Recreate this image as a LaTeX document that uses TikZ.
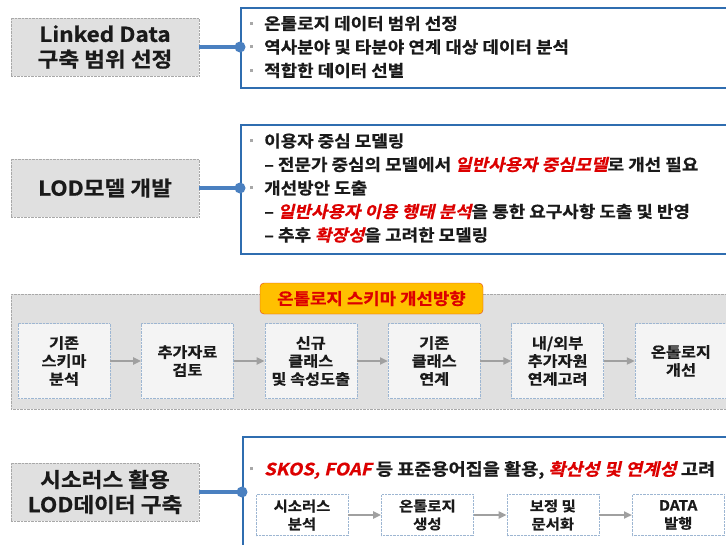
\documentclass[tikz,border=0pt]{standalone}
\usepackage{fontspec}
\setmainfont{Noto Sans CJK KR}[UprightFont=* Bold, BoldFont=* Bold, ItalicFont=* Bold,
    UprightFeatures={FakeStretch=1.1, FakeBold=0.7},
    ItalicFeatures={FakeSlant=0.22, FakeStretch=1.1, FakeBold=0.7}]
\usetikzlibrary{positioning}
\usetikzlibrary{arrows.meta}

\definecolor{boxgray}{HTML}{E0E0E0}
\definecolor{dotgray}{HTML}{A8A8A8}
\definecolor{noteblue}{HTML}{2F6DB0}
\definecolor{linkblue}{HTML}{4A80C0}
\definecolor{stepfill}{HTML}{F4F4F4}
\definecolor{stepline}{HTML}{9DB6D2}
\definecolor{arrowgray}{HTML}{A0A0A0}
\definecolor{txt}{HTML}{1A1A1A}
\definecolor{hot}{HTML}{DC0000}
\definecolor{tagfill}{HTML}{FFC000}
\definecolor{tagline}{HTML}{E0401A}

\newcommand{\bul}{\makebox[14pt][l]{\textcolor{dotgray}{\rule[5pt]{3pt}{3pt}}}}
\newcommand{\sub}{\hspace*{14pt}– }
\newcommand{\hot}[1]{\textcolor{hot}{\itshape #1}}

\tikzset{
  topic/.style={draw=dotgray, densely dotted, fill=boxgray, minimum width=188pt, minimum height=58pt,
    align=center, text=txt, font=\fontsize{20.5}{25}\selectfont},
  note/.style={draw=noteblue, line width=2pt, fill=white, anchor=north west, minimum width=520pt},
  notetext/.style={anchor=west, align=left, inner sep=0pt, text=txt, font=\fontsize{16.3}{23.5}\selectfont},
  link/.style={linkblue, line width=3.5pt},
  stepbox/.style={draw=stepline, densely dotted, fill=stepfill, minimum width=92pt, minimum height=75pt,
    align=center, text=txt, font=\fontsize{14.8}{18}\selectfont},
  flowbox/.style={draw=stepline, densely dotted, fill=white, minimum width=92pt, minimum height=41pt,
    align=center, text=txt, font=\fontsize{14}{18}\selectfont},
  flow/.style={-{Triangle[length=8pt,width=7pt]}, arrowgray, line width=2.5pt},
}

\begin{document}
\begin{tikzpicture}[x=1pt, y=-1pt]
    \useasboundingbox (0,0) rectangle (726,544);

    % Linked Data scope
    \node[topic] (lds) at (105,47) {Linked Data\\구축 범위 선정};
    \node[note, minimum height=80pt] (ldsbox) at (240,7) {};
    \node[notetext] (ldstext) at (250,47) {\bul 온톨로지 데이터 범위 선정\\
        \bul 역사분야 및 타분야 연계 대상 데이터 분석\\
        \bul 적합한 데이터 선별};
    \draw[link] (lds.east) -- (lds.east -| ldsbox.west) coordinate (ldsdot);
    \fill[linkblue] (ldsdot) circle (5.5pt);

    % LOD model
    \node[topic] (lod) at (105,188) {LOD모델 개발};
    \node[note, minimum height=129pt] (lodbox) at (240,124) {};
    \node[notetext] (lodtext) at (250,188) {\bul 이용자 중심 모델링\\
        \sub 전문가 중심의 모델에서 \hot{일반사용자 중심모델}로 개선 필요\\
        \bul 개선방안 도출\\
        \sub \hot{일반사용자 이용 행태 분석}을 통한 요구사항 도출 및 반영\\
        \sub 추후 \hot{확장성}을 고려한 모델링};
    \draw[link] (lod.east) -- (lod.east -| lodbox.west) coordinate (loddot);
    \fill[linkblue] (loddot) circle (5.5pt);

    % schema panel
    \node[draw=dotgray, densely dotted, fill=boxgray, anchor=north west, minimum width=730pt,
        minimum height=115pt] (panel) at (11,294) {};
    \node[stepbox] (s1) at (64,361) {기존\\스키마\\분석};
    \node[stepbox, right=31pt of s1] (s2) {추가자료\\검토};
    \node[stepbox, right=31pt of s2] (s3) {신규\\클래스\\및 속성도출};
    \node[stepbox, right=31pt of s3] (s4) {기존\\클래스\\연계};
    \node[stepbox, right=31pt of s4] (s5) {내/외부\\추가자원\\연계고려};
    \node[stepbox, right=31pt of s5] (s6) {온톨로지\\개선};
    \foreach \a/\b in {s1/s2, s2/s3, s3/s4, s4/s5, s5/s6}
        \draw[flow] (\a) -- (\b);
    \node[draw=tagline, fill=tagfill, rounded corners=4pt, minimum width=223pt, minimum height=31pt,
        text=hot, font=\fontsize{16.2}{18}\selectfont] (tag) at (371.5,298.5) {온톨로지 스키마 개선방향};

    % thesaurus
    \node[topic] (thes) at (105,492) {시소러스 활용\\LOD데이터 구축};
    \node[note, minimum height=130pt] (thesbox) at (242,436) {};
    \node[notetext, font=\fontsize{16.9}{23.5}\selectfont] (thestext) at (250,470)
        {\bul \hot{SKOS, FOAF} 등 표준용어집을 활용, \hot{확산성 및 연계성} 고려};
    \draw[link] (thes.east) -- (thes.east -| thesbox.west) coordinate (thesdot);
    \fill[linkblue] (thesdot) circle (5.5pt);
    \node[flowbox] (f1) at (302,515) {시소러스\\분석};
    \node[flowbox, right=33pt of f1] (f2) {온톨로지\\생성};
    \node[flowbox, right=33pt of f2] (f3) {보정 및\\문서화};
    \node[flowbox, right=33pt of f3] (f4) {DATA\\발행};
    \foreach \a/\b in {f1/f2, f2/f3, f3/f4}
        \draw[flow] (\a) -- (\b);
\end{tikzpicture}
\end{document}
